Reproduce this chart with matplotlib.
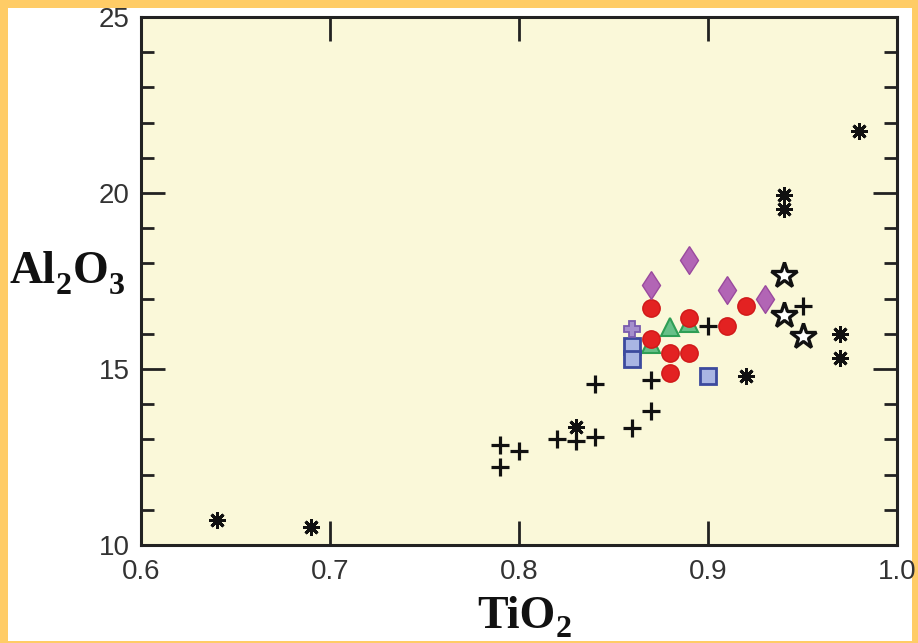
import matplotlib
matplotlib.use("Agg")
import matplotlib.pyplot as plt
from matplotlib.patches import Rectangle
from matplotlib.ticker import MultipleLocator

# TiO2 / Al2O3 by group
star_x = [0.64, 0.69, 0.83, 0.92, 0.94, 0.94, 0.97, 0.97, 0.98]
star_y = [10.7, 10.5, 13.35, 14.8, 19.95, 19.55, 16.0, 15.3, 21.75]

plus_x = [0.79, 0.79, 0.80, 0.82, 0.83, 0.84, 0.84, 0.86, 0.87, 0.87, 0.90, 0.95]
plus_y = [12.85, 12.22, 12.67, 13.0, 12.95, 13.07, 14.57, 13.33, 13.8, 14.7, 16.22, 16.8]

open_star_x = [0.94, 0.94, 0.95]
open_star_y = [17.67, 16.53, 15.94]

diamond_x = [0.87, 0.89, 0.91, 0.93]
diamond_y = [17.38, 18.1, 17.24, 16.99]

circle_x = [0.87, 0.87, 0.88, 0.88, 0.89, 0.89, 0.91, 0.92]
circle_y = [16.73, 15.85, 15.45, 14.9, 16.45, 15.45, 16.22, 16.79]

tri_x = [0.87, 0.88, 0.89]
tri_y = [15.7, 16.18, 16.3]

square_x = [0.86, 0.86, 0.90]
square_y = [15.65, 15.28, 14.8]

cross_x = [0.86]
cross_y = [16.14]

diamond = [(0, 1), (0.65, 0), (0, -1), (-0.65, 0), (0, 1)]


def chem_label(x, y, parts, size, subsize, drop=4.5):
    # parts alternate normal text / subscript, each one glued to the previous
    font = dict(family='Liberation Serif', weight='bold', color='#111111')
    texts = [fig.text(x, y, parts[0], va='baseline', ha='left', fontsize=size, **font)]
    for i, p in enumerate(parts[1:]):
        sub = (i % 2 == 0)
        t = plt.annotate(p, xy=(1, 0), xycoords=texts[-1],
                         xytext=(0.5, -drop if sub else drop), textcoords='offset points',
                         va='bottom', ha='left', fontsize=subsize if sub else size, **font)
        texts.append(t)
    return texts


fig = plt.figure(figsize=(9.18, 6.43), dpi=100)
fig.patch.set_facecolor('#FFCC66')
fig.patches.append(Rectangle((8 / 918, 2 / 643), 904 / 918, 633 / 643,
                             transform=fig.transFigure, facecolor='white',
                             edgecolor='none', zorder=-5))

ax = fig.add_axes([141 / 918, 98 / 643, 756 / 918, 528 / 643])
ax.set_zorder(2)
ax.set_facecolor('#FAF8D9')

ax.plot(plus_x, plus_y, '+', color='#111111', markersize=12.5, markeredgewidth=2.3, zorder=3)
ax.plot(star_x, star_y, marker=(8, 2, 0), linestyle='none', color='#111111',
        markersize=12, markeredgewidth=2.1, zorder=3)
ax.plot(open_star_x, open_star_y, '*', markerfacecolor='white', markeredgecolor='#111111',
        markersize=19, markeredgewidth=2.4, linestyle='none', zorder=3)
ax.plot(tri_x, tri_y, '^', markerfacecolor='#66C088', markeredgecolor='#2E9E55',
        markersize=13, markeredgewidth=1.5, linestyle='none', zorder=3)
ax.plot(circle_x, circle_y, 'o', markerfacecolor='#E32222', markeredgecolor='#D01818',
        markersize=12.5, markeredgewidth=1, linestyle='none', zorder=4)
ax.plot(square_x, square_y, 's', markerfacecolor='#A9B5E3', markeredgecolor='#3C4A9E',
        markersize=11.5, markeredgewidth=2, linestyle='none', zorder=4)
ax.plot(cross_x, cross_y, 'P', markerfacecolor='#A58FCC', markeredgecolor='#7A5CAE',
        markersize=12, markeredgewidth=1.3, linestyle='none', zorder=5)
ax.plot(diamond_x, diamond_y, marker=diamond, markerfacecolor='#B265B5',
        markeredgecolor='#9A4A9E', markersize=20, markeredgewidth=1, linestyle='none', zorder=4)

ax.set_xlim(0.6, 1.0)
ax.set_ylim(10, 25)
ax.yaxis.set_major_locator(MultipleLocator(5))
ax.yaxis.set_minor_locator(MultipleLocator(1))
ax.set_xticks([0.6, 0.7, 0.8, 0.9, 1.0])
ax.set_xticklabels(['0.6', '0.7', '0.8', '0.9', '1.0'])

ax.tick_params(which='major', direction='in', top=True, right=True, length=17, width=2,
               color='#222222', labelsize=20, labelcolor='#333333')
ax.tick_params(which='minor', direction='in', top=True, right=True, length=9.5, width=2,
               color='#222222')
ax.tick_params(axis='x', pad=10)
ax.tick_params(axis='y', pad=8)
for lab in ax.get_xticklabels() + ax.get_yticklabels():
    lab.set_family('Liberation Sans')

for sp in ax.spines.values():
    sp.set_linewidth(2.2)
    sp.set_color('#222222')

chem_label(477 / 918, 15 / 643, ['TiO', '2'], 33, 23, drop=4.5)
chem_label(9 / 918, 360 / 643, ['Al', '2', 'O', '3'], 33, 23, drop=6)

fig.savefig('out.png', dpi=100, facecolor=fig.get_facecolor())
